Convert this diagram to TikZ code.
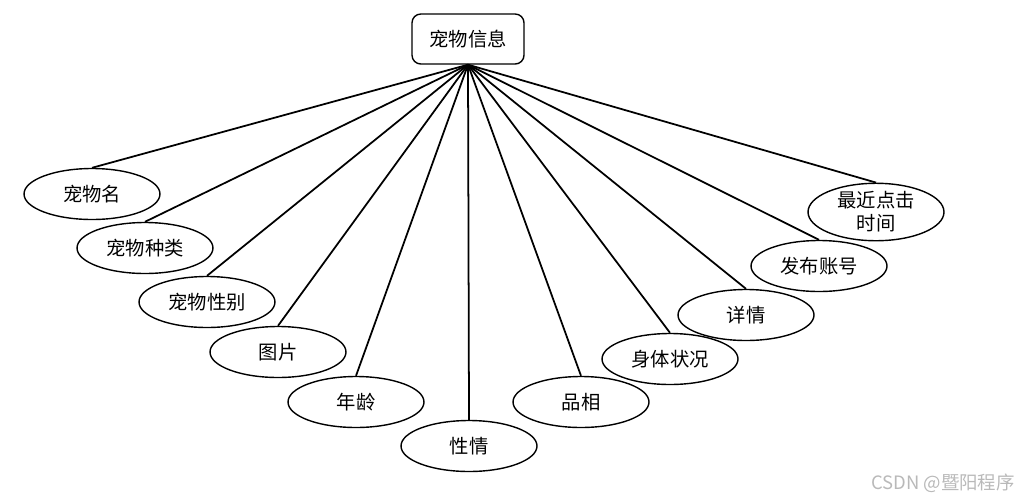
\documentclass[tikz,border=0pt]{standalone}
\usepackage{fontspec}
\setmainfont{Noto Sans CJK SC}
\usetikzlibrary{shapes.geometric}
\definecolor{watermark}{RGB}{185,185,185}

\tikzset{
  entity/.style={draw, line width=0.8pt, rounded corners=5pt, minimum width=2.24cm, minimum height=1cm, inner sep=0pt, font=\fontsize{11}{13}\selectfont},
  attrib/.style={draw, ellipse, line width=0.8pt, minimum width=2.72cm, minimum height=1.02cm, inner sep=0pt, align=center, font=\fontsize{11}{13}\selectfont},
  link/.style={line width=1pt}
}

\begin{document}
\begin{tikzpicture}[x=0.02cm, y=-0.02cm]
  \useasboundingbox (0,0) rectangle (1027,501);
  \node[entity] (pet)     at (468, 39) {宠物信息};
  \node[attrib] (petname) at ( 92,194) {宠物名};
  \node[attrib] (species) at (145,248) {宠物种类};
  \node[attrib] (gender)  at (207,302) {宠物性别};
  \node[attrib] (photo)   at (278,352) {图片};
  \node[attrib] (age)     at (356,402) {年龄};
  \node[attrib] (temper)  at (469,446) {性情};
  \node[attrib] (looks)   at (581,402) {品相};
  \node[attrib] (health)  at (670,359) {身体状况};
  \node[attrib] (detail)  at (746,315) {详情};
  \node[attrib] (account) at (819,266) {发布账号};
  \node[attrib] (lastclk) at (876,212) {最近点击\\时间};
  \foreach \a in {petname,species,gender,photo,age,temper,looks,health,detail,account,lastclk}
    \draw[link] (pet.south) -- (\a.north);
  \node[text=watermark, font=\fontsize{10.5}{12}\selectfont, anchor=east] (mark) at (1021,483) {CSDN @暨阳程序};
\end{tikzpicture}
\end{document}
